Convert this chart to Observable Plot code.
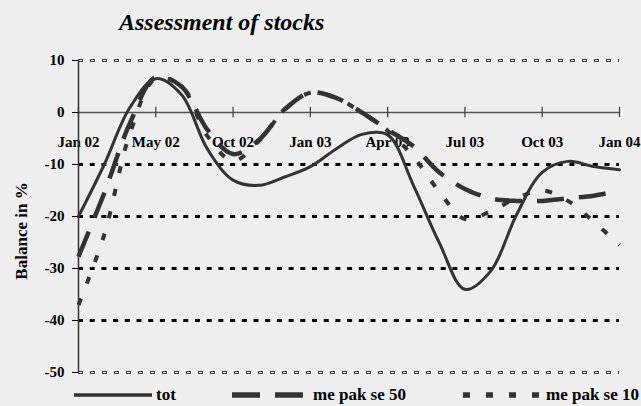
<!DOCTYPE html>
<html><head><meta charset="utf-8">
<script src="https://cdn.jsdelivr.net/npm/d3@7"></script>
<script src="https://cdn.jsdelivr.net/npm/@observablehq/plot@0.6"></script>
<style>
body{margin:0;background:#eeeeee;}
#wrap{position:relative;width:641px;height:406px;background:#eeeeee;font-family:"Liberation Serif","Times New Roman",serif;overflow:hidden;}
#title{position:absolute;left:119px;top:10px;font-size:24px;line-height:24px;font-weight:bold;font-style:italic;color:#000;white-space:nowrap;}
#chart{position:absolute;left:0;top:0;}
#overlay{position:absolute;left:0;top:0;}
#chart svg text, #overlay text{font-family:"Liberation Serif","Times New Roman",serif;font-weight:bold;}
</style></head><body>
<div id="wrap"><div id="chart"></div><div id="title">Assessment of stocks</div><svg id="overlay" width="641" height="406"></svg></div>
<script>
// x categories are indices 0..21; a labelled tick every 3 categories
const tickLabels = ["Jan 02","May 02","Oct 02","Jan 03","Apr 03","Jul 03","Oct 03","Jan 04"];
const tickStep = 3;
const yTicks = [10, 0, -10, -20, -30, -40, -50];
const yLabel = "Balance in %";
const seriesNames = ["tot", "me pak se 50", "me pak se 10"];

const tot  = [-20, -10, 1, 6.5, 3.4, -7, -13, -14, -12.4, -10.4, -7, -4.2, -4.3, -14, -25, -34, -30.5, -19.7, -11.5, -9.4, -10.4, -11];
const me50 = [-27.7, -15.5, -2, 6.8, 5, -3.3, -8, -5.3, 0.6, 3.8, 2.8, 0, -3.3, -6.5, -11.5, -14.7, -16.5, -17, -17, -16.5, -16, -15];
const me10 = [-37, -23.5, -4, 6.5, 5, -4.5, -9.3, -5.5, 0.5, 3.8, 2.8, 0, -3.5, -8.5, -15.2, -20.5, -19, -16.5, -15, -17, -21, -25.5];

const ticks = tickLabels.map((label, i) => ({label, x: i * tickStep}));
const rows = vals => vals.map((v, i) => ({x: i, y: v}));
const lastIdx = tot.length - 1;
const FONT = "'Liberation Serif', 'Times New Roman', serif";

const styles = [
  {stroke: "#333", strokeWidth: 3, strokeDasharray: null, strokeLinecap: "round"},
  {stroke: "#333", strokeWidth: 4.5, strokeDasharray: "27,15", strokeLinecap: "butt"},
  {stroke: "#333", strokeWidth: 4, strokeDasharray: "7,16", strokeLinecap: "butt"}
];
const seriesVals = [tot, me50, me10];

const chart = Plot.plot({
  width: 641, height: 406,
  marginTop: 60, marginBottom: 34, marginLeft: 78, marginRight: 22,
  style: {background: "transparent", fontFamily: FONT, fontWeight: "bold", fontSize: "15px", color: "#000"},
  x: {domain: [0, lastIdx], axis: null},
  y: {domain: [-50, 10], ticks: yTicks, tickSize: 6, tickPadding: 8, tickFormat: d => String(d), label: null},
  marks: [
    Plot.ruleY([-10, -20, -30, -40], {stroke: "#000", strokeWidth: 3, strokeDasharray: "5,6.7"}),
    Plot.ruleY([10, -50], {stroke: "#444", strokeWidth: 3, strokeDasharray: "5,7"}),
    Plot.ruleY([10, -50], {stroke: "#eeeeee", strokeWidth: 1.2, strokeDasharray: "3,9", strokeDashoffset: -1}),
    Plot.ruleY([0], {stroke: "#555", strokeWidth: 1.5}),
    Plot.ruleX(ticks, {x: "x", y1: -1, y2: 1, stroke: "#444", strokeWidth: 1.3}),
    Plot.text(ticks, {x: "x", y: 0, text: "label", dy: 30, fontSize: 15, fontWeight: "bold", fontFamily: FONT, fill: "#000"}),
    Plot.ruleX([0], {y1: -50, y2: 10, stroke: "#333", strokeWidth: 1.5}),
    ...seriesVals.map((vals, k) => Plot.line(rows(vals), {
      x: "x", y: "y", curve: "catmull-rom",
      stroke: styles[k].stroke, strokeWidth: styles[k].strokeWidth,
      strokeDasharray: styles[k].strokeDasharray, strokeLinecap: styles[k].strokeLinecap
    }))
  ]
});
document.getElementById("chart").appendChild(chart);

const ov = d3.select("#overlay");
// y-axis title
ov.append("text").attr("transform", "translate(27,231) rotate(-90)").attr("text-anchor", "middle")
  .attr("font-size", 17).attr("fill", "#000").text(yLabel);

// legend
const legItems = [
  {x1: 74, x2: 152, tx: 156},
  {x1: 232, x2: 304, tx: 313},
  {x1: 463, x2: 541, tx: 546}
];
legItems.forEach((it, k) => {
  ov.append("line").attr("x1", it.x1).attr("x2", it.x2).attr("y1", 395).attr("y2", 395)
    .attr("stroke", styles[k].stroke).attr("stroke-width", k === 0 ? 3.5 : 5.5)
    .attr("stroke-dasharray", k === 1 ? "28,15" : k === 2 ? "7,16" : null)
    .attr("stroke-linecap", "butt");
  ov.append("text").attr("x", it.tx).attr("y", 400).text(seriesNames[k])
    .attr("font-size", 17).attr("fill", "#000");
});
</script>
</body></html>
